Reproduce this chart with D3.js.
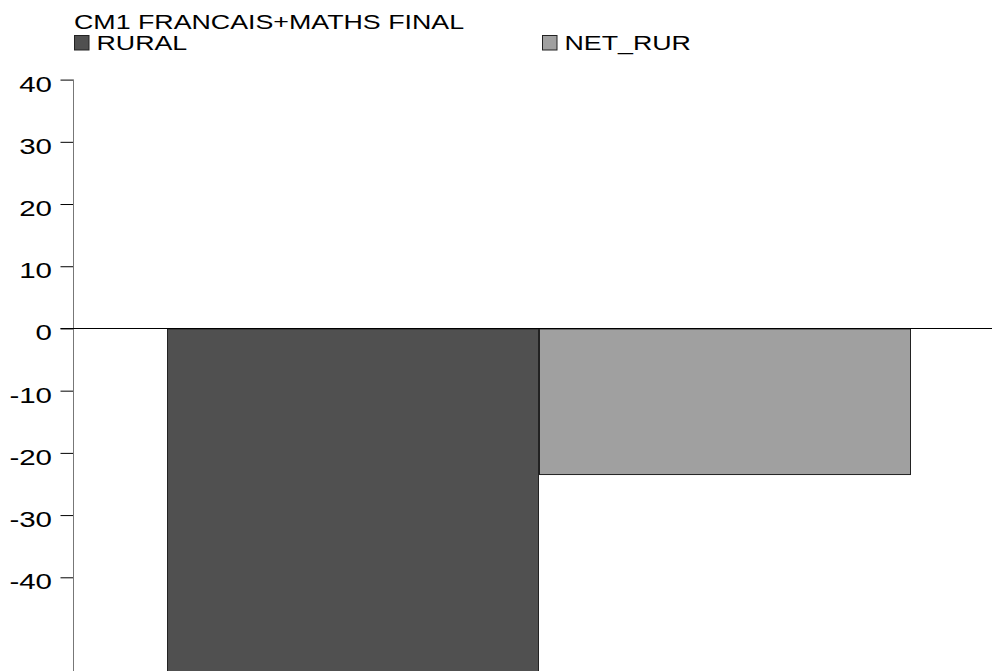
<!DOCTYPE html>
<html>
<head>
<meta charset="utf-8">
<script src="https://cdn.jsdelivr.net/npm/d3@7"></script>
<style>
  html, body { margin: 0; padding: 0; background: #fff; }
  svg { display: block; }
  text { font-family: "Liberation Sans", Arial, sans-serif; fill: #000; }
</style>
</head>
<body>
<svg id="chart" width="992" height="671"></svg>
<script>
// Chart data
const title = "CM1 FRANCAIS+MATHS FINAL";
const series = ["RURAL", "NET_RUR"];
const values = [-58, -23.4];
const colors = ["#505050", "#a0a0a0"];
const yTicks = [40, 30, 20, 10, 0, -10, -20, -30, -40];

const W = 992, H = 671;
const svg = d3.select("#chart");

const axisX = 73.5;
const sx = 1.34;          // horizontal stretch of the lettering

// Scales
const y = d3.scaleLinear().domain([-40, 40]).range([577.3, 79.6]);
const x = d3.scaleBand().domain(series).range([167, 911]).padding(0);

// Helper to draw horizontally stretched text
function stretchedText(g, str, tx, ty, anchor, size) {
  return g.append("text")
    .attr("transform", `translate(${tx},${ty}) scale(${sx},1)`)
    .attr("text-anchor", anchor || "start")
    .style("font-size", size + "px")
    .text(str);
}

// Title
stretchedText(svg, title, 74, 28.5, "start", 20);

// Legend
const legendX = [74.5, 542.5];
series.forEach((s, i) => {
  svg.append("rect")
    .attr("x", legendX[i]).attr("y", 35.5)
    .attr("width", 14.5).attr("height", 14.5)
    .attr("fill", colors[i]).attr("stroke", "#222").attr("stroke-width", 1);
  stretchedText(svg, s, legendX[i] + 22, 49.5, "start", 20);
});

// Bars
svg.append("g").selectAll("rect")
  .data(series.map((s, i) => ({ s, v: values[i], c: colors[i] })))
  .join("rect")
  .attr("x", d => x(d.s) + 0.5)
  .attr("width", d => x.bandwidth() - 1)
  .attr("y", d => Math.min(y(0), y(d.v)) + 0.5)
  .attr("height", d => Math.abs(y(d.v) - y(0)))
  .attr("fill", d => d.c)
  .attr("stroke", "#222")
  .attr("stroke-width", 1);

// Y axis ticks
const yAxis = d3.axisLeft(y).tickValues(yTicks).tickSize(13).tickFormat(() => "");
const gy = svg.append("g").attr("transform", `translate(${axisX},0)`).call(yAxis);
gy.select(".domain").remove();
gy.selectAll(".tick line").attr("stroke", "#000");
gy.selectAll(".tick text").remove();
gy.append("line")
  .attr("x1", 0).attr("x2", 0)
  .attr("y1", y(40)).attr("y2", H)
  .attr("stroke", "#777").attr("stroke-width", 1);

// Tick labels (plain hyphen for negatives)
yTicks.forEach(t => {
  stretchedText(svg, String(t), 52, y(t) + 12, "end", 22);
});

// Zero line
svg.append("line")
  .attr("x1", axisX - 13).attr("x2", W)
  .attr("y1", Math.round(y(0)) + 0.5).attr("y2", Math.round(y(0)) + 0.5)
  .attr("stroke", "#000").attr("stroke-width", 1);
</script>
</body>
</html>
